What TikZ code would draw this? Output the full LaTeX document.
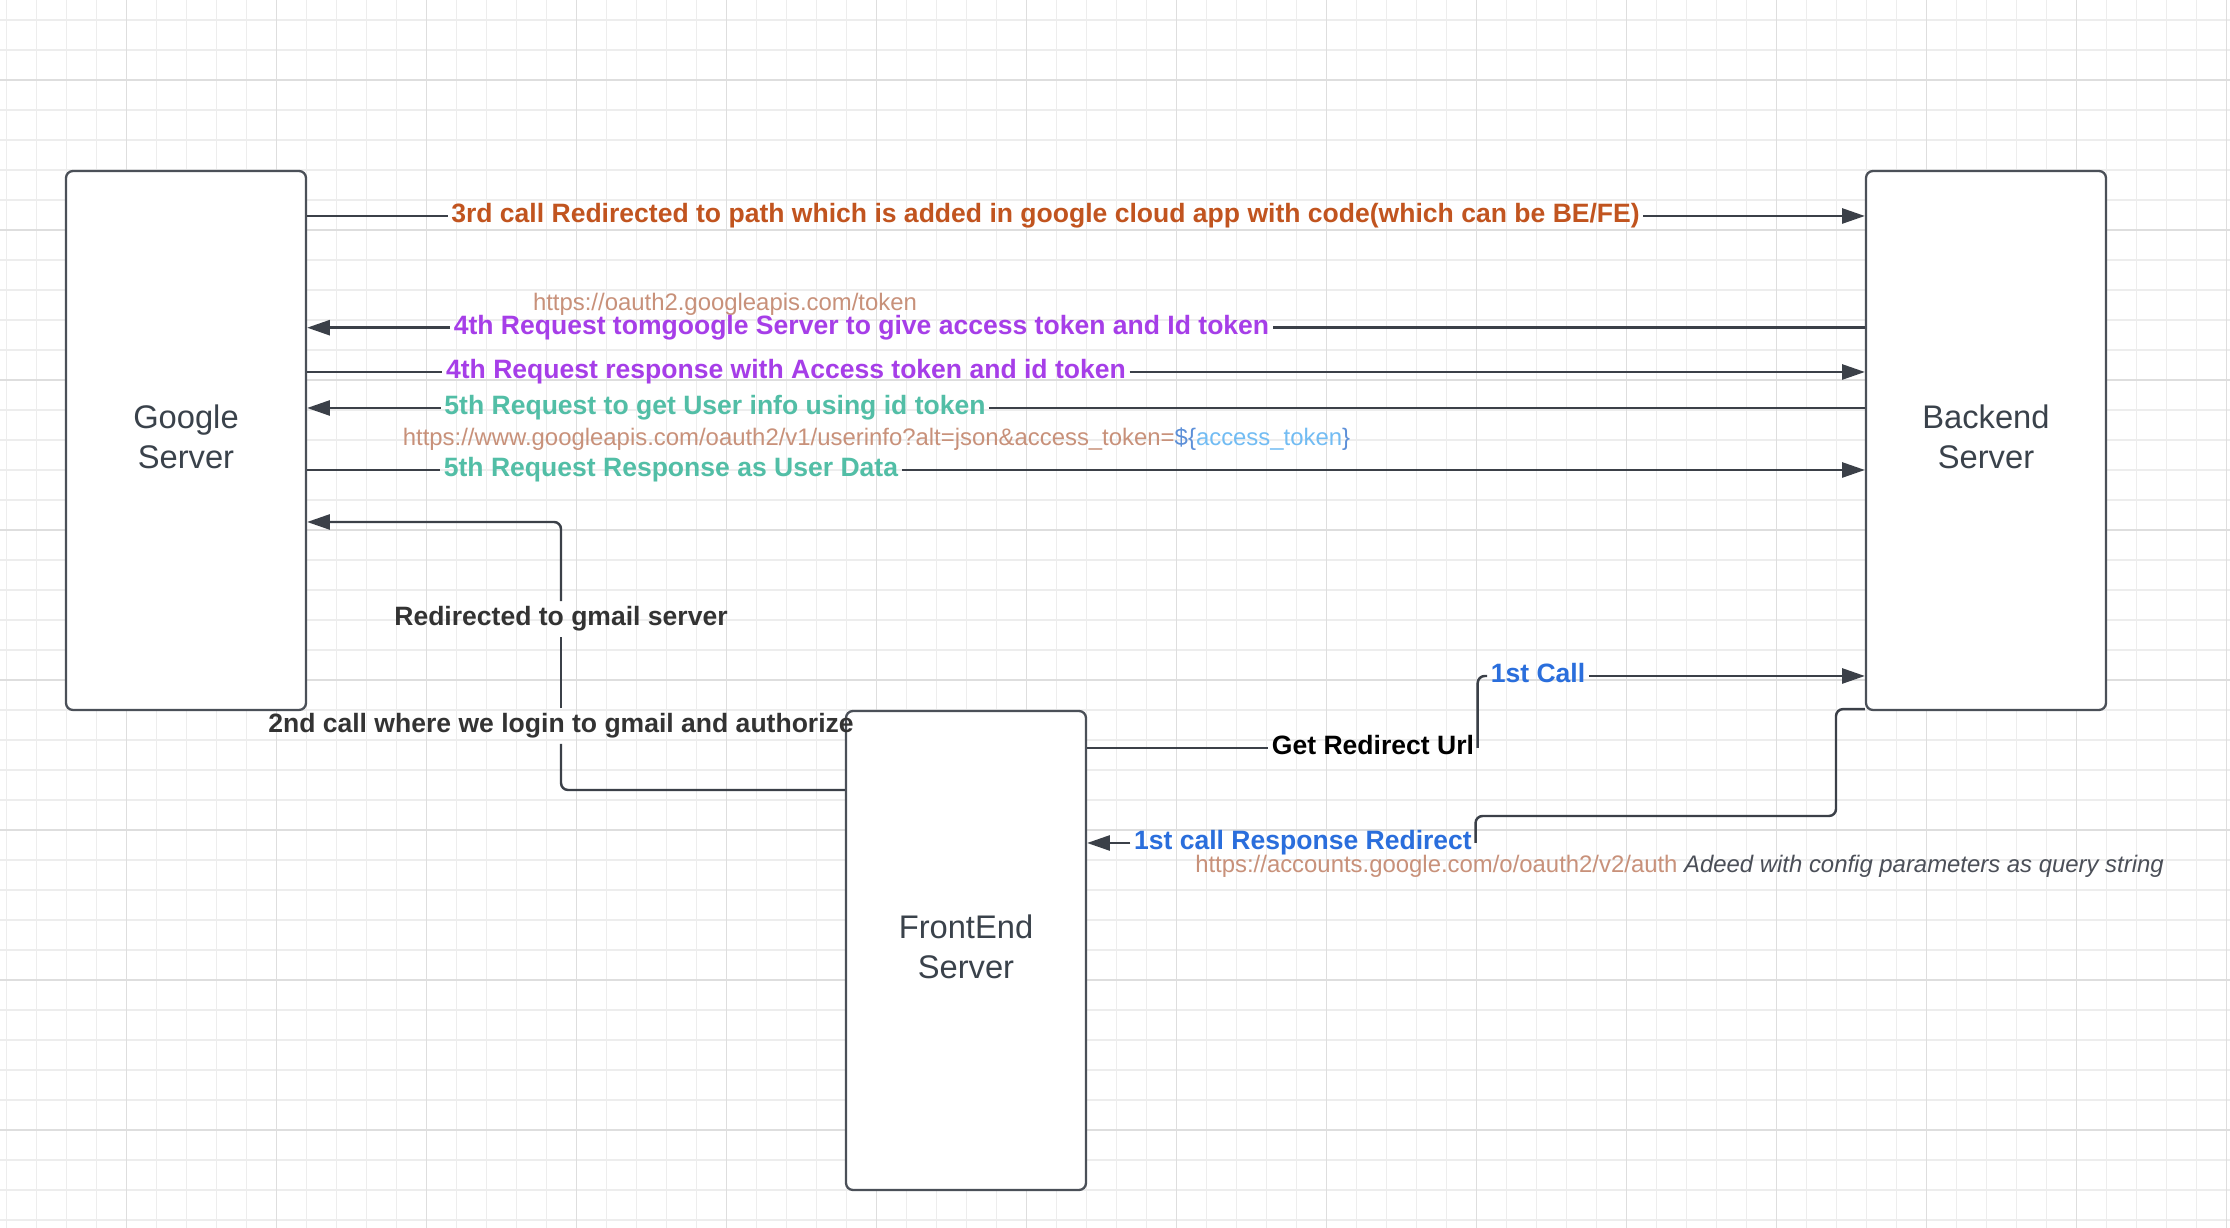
\documentclass[tikz,border=0pt]{standalone}
\usepackage{fontspec}
\setmainfont{Liberation Sans}
\usetikzlibrary{arrows.meta}
\definecolor{linegray}{HTML}{3B4048}
\definecolor{boxgray}{HTML}{4B5058}
\definecolor{servertext}{HTML}{3A424B}
\definecolor{minorgrid}{HTML}{EDEDED}
\definecolor{majorgrid}{HTML}{DEDEDE}
\definecolor{callorange}{HTML}{C1541F}
\definecolor{reqpurple}{HTML}{A63EE8}
\definecolor{reqteal}{HTML}{52BEA6}
\definecolor{urlsalmon}{HTML}{C8917A}
\definecolor{callblue}{HTML}{2A6EDC}
\definecolor{dollarblue}{HTML}{5C8FD8}
\definecolor{tokenblue}{HTML}{72BCF3}
\definecolor{italicgray}{HTML}{4B4F58}
\definecolor{darktext}{HTML}{333333}
\begin{document}
\begin{tikzpicture}[
    server/.style={draw=boxgray, line width=0.65pt, fill=white, rounded corners=2pt, minimum width=2.4cm, inner sep=0pt, align=center, text=servertext, font=\fontsize{9.3pt}{11.4pt}\selectfont},
    msg/.style={inner xsep=0.03cm, inner ysep=0.05cm, text height=0.19cm, text depth=0.055cm, font=\fontsize{7.55pt}{9pt}\selectfont\bfseries},
    url/.style={inner sep=0pt, anchor=base, font=\fontsize{6.8pt}{8pt}\selectfont},
    wire/.style={draw=linegray, line width=0.7pt, rounded corners=0.07cm},
    arr/.style={wire, -{Triangle[length=6.5pt, width=4.3pt]}}]
      \useasboundingbox (0,0) rectangle (22.30,-12.28);
      \fill[white] (0,0) rectangle (22.30,-12.28);
      % grid
      \foreach \x in {0,...,74}
        \draw[minorgrid, line width=0.35pt] ({0.065+0.3*\x},0) -- ++(0,-12.28);
      \foreach \y in {0,...,40}
        \draw[minorgrid, line width=0.35pt] (0,{-0.2-0.3*\y}) -- ++(22.30,0);
      \foreach \x in {0,...,14}
        \draw[majorgrid, line width=0.35pt] ({1.265+1.5*\x},0) -- ++(0,-12.28);
      \foreach \y in {0,...,7}
        \draw[majorgrid, line width=0.35pt] (0,{-0.8-1.5*\y}) -- ++(22.30,0);
      % servers
      \node[server, minimum height=5.39cm] (google) at (1.86,-4.405) {Google\\Server\\[-0.32cm]};
      \node[server, minimum height=5.39cm] (backend) at (19.86,-4.405) {Backend\\Server\\[-0.32cm]};
      \node[server, minimum height=4.79cm] (front) at (9.66,-9.505) {FrontEnd\\Server\\[-0.32cm]};
      % labels
      \node[msg, text=callorange] (call3) at (10.455,-2.16) {3rd call Redirected to path which is added in google cloud app with code(which can be BE/FE)};
      \node[url, text=urlsalmon] (tokenurl) at (7.25,-3.11) {https://oauth2.googleapis.com/token};
      \node[msg, text=reqpurple] (req4) at (8.615,-3.277) {4th Request tomgoogle Server to give access token and Id token};
      \node[msg, text=reqpurple] (resp4) at (7.86,-3.72) {4th Request response with Access token and id token};
      \node[msg, text=reqteal] (req5) at (7.15,-4.08) {5th Request to get User info using id token};
      \node[url] (infourl) at (8.765,-4.455) {{\color{urlsalmon}https://www.googleapis.com/oauth2/v1/userinfo?alt=json\&access\_token=}{\color{dollarblue}\$\{}{\color{tokenblue}access\_token}{\color{dollarblue}\}}};
      \node[msg, text=reqteal] (resp5) at (6.71,-4.70) {5th Request Response as User Data};
      \node[msg, text=darktext] (gmail) at (5.61,-6.19) {Redirected to gmail server};
      \node[msg, text=darktext] (login) at (5.61,-7.26) {2nd call where we login to gmail and authorize};
      \node[msg, text=black] (geturl) at (13.73,-7.48) {Get Redirect Url};
      \node[msg, text=callblue] (call1) at (15.38,-6.76) {1st Call};
      \node[msg, text=callblue] (resp1) at (13.03,-8.43) {1st call Response Redirect};
      \node[url] (authurl) at (16.795,-8.73) {{\color{urlsalmon}https://accounts.google.com/o/oauth2/v2/auth} {\color{italicgray}\itshape Adeed with config parameters as query string}};
      % google <-> backend
      \foreach \lbl in {call3, resp4, resp5} {
        \draw[wire] (google.east |- \lbl) -- (\lbl.west);
        \draw[arr] (\lbl.east) -- (backend.west |- \lbl);
      }
      \foreach \lbl in {req4, req5} {
        \draw[wire] (backend.west |- \lbl) -- (\lbl.east);
        \draw[arr] (\lbl.west) -- (google.east |- \lbl);
      }
      % frontend -> google
      \coordinate (low) at (5.61,-7.90);
      \coordinate (high) at (5.61,-5.22);
      \draw[wire] (front.west |- low) -- (low) -- (login.south);
      \draw[wire] (login.north) -- (gmail.south);
      \draw[arr] (gmail.north) -- (high) -- (google.east |- high);
      % frontend <-> backend
      \draw[wire] (front.east |- geturl) -- (geturl.west);
      \draw[wire] (geturl.east) |- (call1.west);
      \draw[arr] (call1.east) -- (backend.west |- call1);
      \coordinate (drop) at (18.36,-8.16);
      \draw[wire] ([yshift=0.02cm]backend.south west) -| (drop) -- (resp1.east |- drop) -- (resp1.east);
      \draw[arr] (resp1.west) -- (front.east |- resp1);
\end{tikzpicture}
\end{document}
